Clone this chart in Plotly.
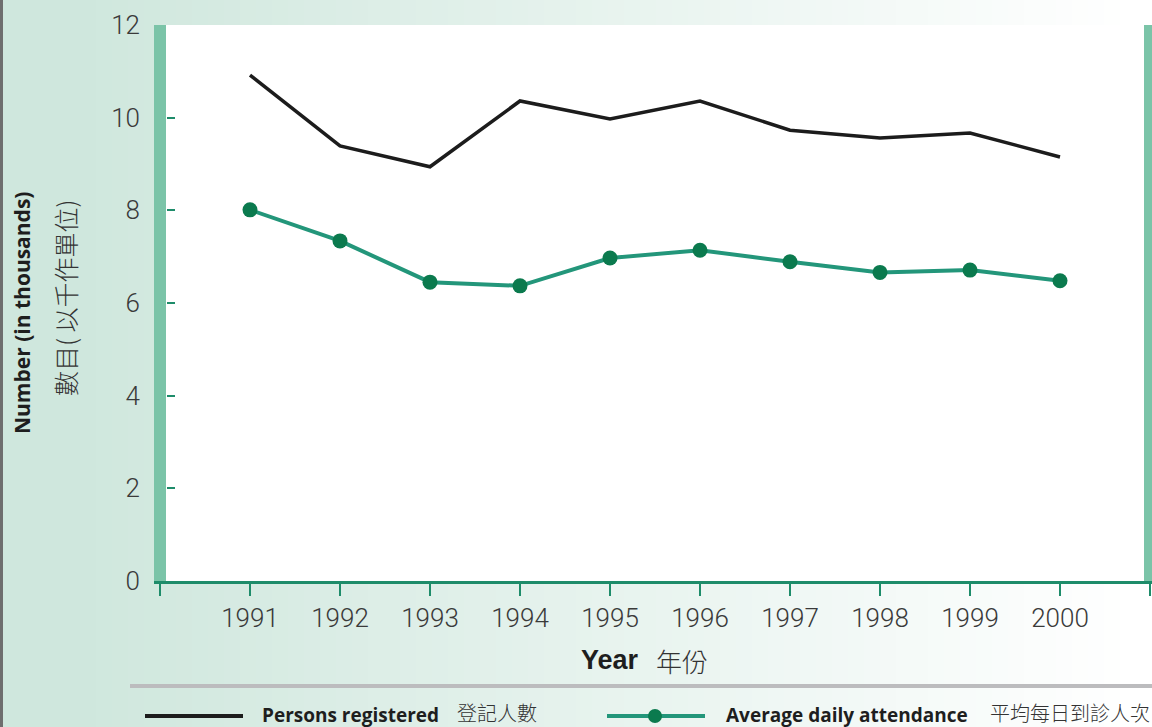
import plotly.graph_objects as go

years = [1991, 1992, 1993, 1994, 1995, 1996, 1997, 1998, 1999, 2000]
persons_registered = [10.92, 9.39, 8.94, 10.36, 9.97, 10.36, 9.73, 9.56, 9.67, 9.15]
avg_daily_attendance = [8.01, 7.34, 6.45, 6.37, 6.97, 7.14, 6.89, 6.66, 6.71, 6.48]
y_ticks = [0, 2, 4, 6, 8, 10, 12]
x_tickvals = list(range(1990, 2002))
x_ticktext = [""] + [str(y) for y in years] + [""]

W, H = 1152, 727
def px(x):
    return x / W
def py(y):
    return (H - y) / H

BOLD = "Open Sans"
CJK = "Noto Sans CJK TC"
NUM = "Roboto"

fig = go.Figure()
fig.add_trace(go.Scatter(x=years, y=persons_registered, mode="lines",
                         line=dict(color="#1c1c1c", width=3.5), name="Persons registered"))
fig.add_trace(go.Scatter(x=years, y=avg_daily_attendance, mode="lines+markers",
                         line=dict(color="#23967a", width=4),
                         marker=dict(size=15, color="#0b7a4e"), name="Average daily attendance"))

shapes = []
# background gradient strips
c0 = (0xcf, 0xe7, 0xdd)
x_start, x_end = 80, 1130
step = 16
for i in range(0, W, step):
    xc = i + step / 2
    t = min(max((xc - x_start) / (x_end - x_start), 0), 1)
    col = tuple(round(c + (255 - c) * t) for c in c0)
    shapes.append(dict(type="rect", xref="paper", yref="paper", x0=px(i), x1=px(i + step + 1),
                       y0=0, y1=1, fillcolor="rgb(%d,%d,%d)" % col, line=dict(width=0), layer="below"))
# white plot area
shapes.append(dict(type="rect", xref="paper", yref="paper", x0=px(166), x1=px(1144), y0=py(581), y1=py(25),
                   fillcolor="white", line=dict(width=0), layer="below"))
# green side bars
shapes.append(dict(type="rect", xref="paper", yref="paper", x0=px(154), x1=px(166), y0=py(581), y1=py(25),
                   fillcolor="#7bc4a8", line=dict(width=0), layer="below"))
shapes.append(dict(type="rect", xref="paper", yref="paper", x0=px(1144), x1=px(1153), y0=py(581), y1=py(25),
                   fillcolor="#7bc4a8", line=dict(width=0), layer="below"))
# left gray border
shapes.append(dict(type="rect", xref="paper", yref="paper", x0=0, x1=px(3), y0=0, y1=1,
                   fillcolor="#6e6e6e", line=dict(width=0), layer="below"))
# gray separator line
shapes.append(dict(type="line", xref="paper", yref="paper", x0=px(130), x1=1, y0=py(686), y1=py(686),
                   line=dict(color="#bcbcbe", width=4)))
# legend samples
shapes.append(dict(type="line", xref="paper", yref="paper", x0=px(145), x1=px(243), y0=py(716), y1=py(716),
                   line=dict(color="#1c1c1c", width=4)))
shapes.append(dict(type="line", xref="paper", yref="paper", x0=px(607), x1=px(705), y0=py(716), y1=py(716),
                   line=dict(color="#23967a", width=4)))
shapes.append(dict(type="circle", xref="paper", yref="paper", x0=px(648), x1=px(662), y0=py(723), y1=py(709),
                   fillcolor="#0b7a4e", line=dict(width=0)))

annotations = [
    dict(text="<b>Number (in thousands)</b>", x=px(22), y=py(313), textangle=-90,
         font=dict(family=BOLD, size=21, color="#1e1e1e")),
    dict(text="數目( 以千作單位)", x=px(65), y=py(298), textangle=-90,
         font=dict(family=CJK, size=25, color="#333333", weight=300)),
    dict(text="<b>Year</b>", x=px(610), y=py(660),
         font=dict(family="Liberation Sans", size=27, color="#1e1e1e")),
    dict(text="年份", x=px(682), y=py(660),
         font=dict(family=CJK, size=26, color="#333333", weight=300)),
    dict(text="<b>Persons registered</b>", x=px(260), y=py(715), xanchor="left",
         font=dict(family=BOLD, size=19, color="#1e1e1e")),
    dict(text="登記人數", x=px(455), y=py(712), xanchor="left",
         font=dict(family=CJK, size=20, color="#333333", weight=300)),
    dict(text="<b>Average daily attendance</b>", x=px(724), y=py(715), xanchor="left",
         font=dict(family=BOLD, size=19, color="#1e1e1e")),
    dict(text="平均每日到診人次", x=px(988), y=py(712), xanchor="left",
         font=dict(family=CJK, size=20, color="#333333", weight=300)),
]
for a in annotations:
    a.update(xref="paper", yref="paper", showarrow=False, xanchor=a.get("xanchor", "center"), yanchor="middle")

fig.update_layout(
    template="none",
    width=W, height=H, autosize=False,
    margin=dict(l=0, r=0, t=0, b=0, pad=0),
    paper_bgcolor="white",
    plot_bgcolor="rgba(0,0,0,0)",
    showlegend=False,
    shapes=shapes,
    annotations=annotations,
    xaxis=dict(domain=[px(154), 1.0], range=[1990 - 6 / 90, 2001 + 2 / 90], automargin=False,
               tickmode="array", tickvals=x_tickvals, ticktext=x_ticktext,
               showline=True, linecolor="#1e8c6a", linewidth=3,
               ticks="outside", ticklen=12, tickwidth=2, tickcolor="#1e8c6a",
               showgrid=False, zeroline=False, ticklabelstandoff=0,
               tickfont=dict(family=NUM, size=26, color="#3a3a3a", weight=300)),
    yaxis=dict(domain=[py(581), py(25)], range=[0, 12], anchor="free", position=px(166), automargin=False,
               tickmode="array", tickvals=y_ticks,
               ticks="inside", ticklen=8, tickwidth=2, tickcolor="#1e8c6a",
               showline=False, showgrid=False, zeroline=False, ticklabelstandoff=26,
               tickfont=dict(family=NUM, size=26, color="#3a3a3a", weight=300)),
)

fig.write_html("out.html", config={"displayModeBar": False},
               post_script="document.body.style.margin='0';document.body.style.overflow='hidden';")
